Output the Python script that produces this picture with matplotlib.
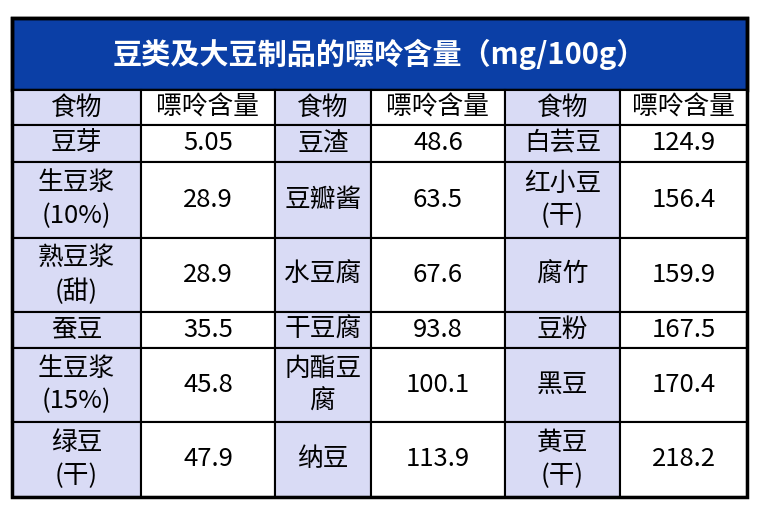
import matplotlib
matplotlib.use("Agg")
import matplotlib.pyplot as plt
from matplotlib.patches import Rectangle

plt.rcParams['font.family'] = ['Noto Sans CJK SC', 'DejaVu Sans']

title = "豆类及大豆制品的嘌呤含量（mg/100g）"
headers = ["食物", "嘌呤含量", "食物", "嘌呤含量", "食物", "嘌呤含量"]
foods1 = ["豆芽", "生豆浆\n(10%)", "熟豆浆\n(甜)", "蚕豆", "生豆浆\n(15%)", "绿豆\n(干)"]
vals1 = ["5.05", "28.9", "28.9", "35.5", "45.8", "47.9"]
foods2 = ["豆渣", "豆瓣酱", "水豆腐", "干豆腐", "内酯豆\n腐", "纳豆"]
vals2 = ["48.6", "63.5", "67.6", "93.8", "100.1", "113.9"]
foods3 = ["白芸豆", "红小豆\n(干)", "腐竹", "豆粉", "黑豆", "黄豆\n(干)"]
vals3 = ["124.9", "156.4", "159.9", "167.5", "170.4", "218.2"]

fig = plt.figure(figsize=(7.59, 5.11), dpi=100)
ax = fig.add_axes([0, 0, 1, 1])
ax.set_xlim(0, 759); ax.set_ylim(511, 0); ax.axis('off')

xs = [12, 141, 275, 371, 505, 620, 747]
ys = [90, 125, 162, 238, 312, 348, 422, 497]
top = 18
lav = '#D9DBF5'
blue = '#0B3FA6'

ax.add_patch(Rectangle((xs[0], top), xs[-1]-xs[0], ys[0]-top, facecolor=blue, edgecolor='black', lw=2.5))
ax.text((xs[0]+xs[-1])/2, (top+ys[0])/2, title, color='white', fontsize=21, fontweight='bold', ha='center', va='center')

rows = [headers] + [[foods1[i], vals1[i], foods2[i], vals2[i], foods3[i], vals3[i]] for i in range(6)]
for r, row in enumerate(rows):
    for c, txt in enumerate(row):
        x0, x1 = xs[c], xs[c+1]
        y0, y1 = ys[r], ys[r+1]
        fc = lav if c % 2 == 0 else 'white'
        ax.add_patch(Rectangle((x0, y0), x1-x0, y1-y0, facecolor=fc, edgecolor='black', lw=1.5))
        ax.text((x0+x1)/2, (y0+y1)/2, txt, fontsize=18.5, ha='center', va='center', linespacing=1.35)

ax.add_patch(Rectangle((xs[0], top), xs[-1]-xs[0], ys[-1]-top, facecolor='none', edgecolor='black', lw=2.5))
fig.savefig("out.png", dpi=100)
